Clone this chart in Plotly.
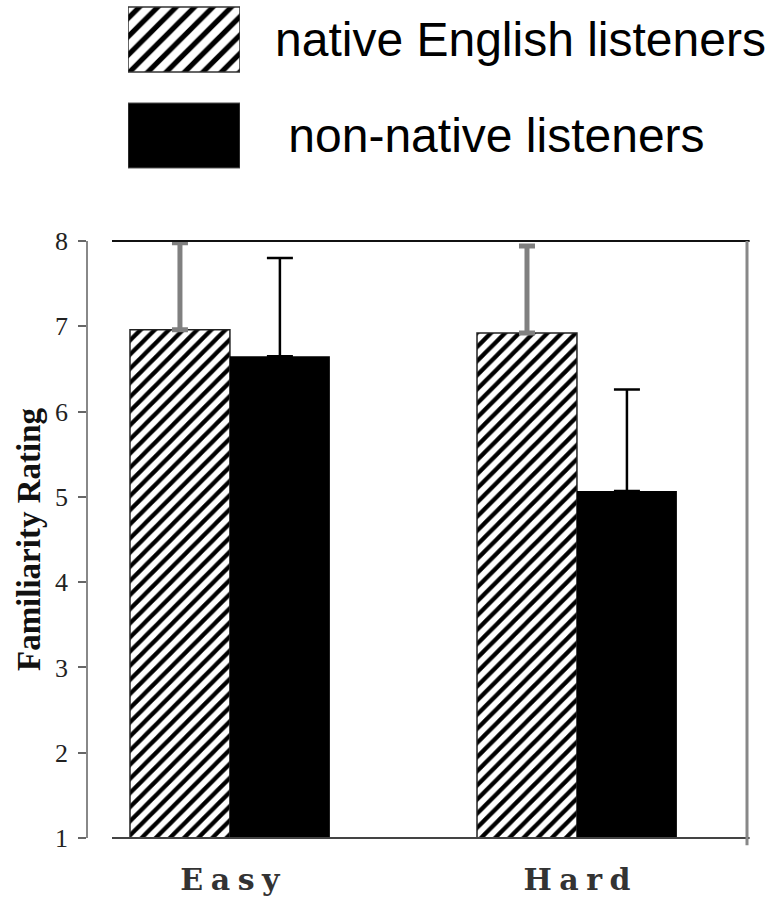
import plotly.graph_objects as go

# ---- data -------------------------------------------------------------
difficulty = ["Easy", "Hard"]
native_mean = [6.96, 6.92]
native_sd = [1.02, 1.02]
nonnative_mean = [6.65, 5.07]
nonnative_sd = [1.15, 1.19]
y_ticks = [1, 2, 3, 4, 5, 6, 7, 8]
group_names = ["native English listeners", "non-native listeners"]

# ---- styling ----------------------------------------------------------
BAR_W = 0.288
HATCH = dict(shape="/", fgcolor="black", bgcolor="white", size=10,
             solidity=0.42, fillmode="replace")

fig = go.Figure()

# native listeners: hatched bars with grey upward error bars
fig.add_trace(go.Bar(
    x=difficulty, y=native_mean, width=BAR_W, offset=-BAR_W,
    marker=dict(color="white", pattern=HATCH,
                line=dict(color="#222", width=1.5)),
    error_y=dict(type="data", array=native_sd, arrayminus=[0] * len(native_sd),
                 symmetric=False, color="#808080", thickness=5, width=8),
    name=group_names[0],
))

# non-native listeners: solid black bars with thin black error bars
fig.add_trace(go.Bar(
    x=difficulty, y=nonnative_mean, width=BAR_W, offset=0,
    marker=dict(color="black", line=dict(color="black", width=0)),
    error_y=dict(type="data", array=nonnative_sd,
                 arrayminus=[0] * len(nonnative_sd), symmetric=False,
                 color="black", thickness=2.5, width=13),
    name=group_names[1],
))

# key swatches drawn as horizontal bars on a small companion axis pair
fig.add_trace(go.Bar(
    y=[group_names[0]], x=[1], orientation="h", xaxis="x2", yaxis="y2",
    width=0.677, base=0,
    marker=dict(color="white",
                pattern=dict(shape="/", fgcolor="black", bgcolor="white",
                             size=13, solidity=0.4, fillmode="replace"),
                line=dict(color="#333", width=1.5)),
    hoverinfo="skip",
))
fig.add_trace(go.Bar(
    y=[group_names[1]], x=[1], orientation="h", xaxis="x2", yaxis="y2",
    width=0.677, base=0,
    marker=dict(color="black", line=dict(color="#555", width=1)),
    hoverinfo="skip",
))

spaced = ["\u2005".join(list(c)) for c in difficulty]
key_text = [group_names[0], "\u00a0" + group_names[1]]

fig.update_layout(
    width=771, height=901,
    margin=dict(l=88, r=24, t=0, b=63, pad=0, autoexpand=False),
    paper_bgcolor="white", plot_bgcolor="white",
    barmode="overlay", showlegend=False,
    xaxis=dict(
        type="category", categoryorder="array", categoryarray=difficulty,
        range=[-0.409, 1.490], domain=[0, 1], anchor="y", automargin=False,
        showline=False, showgrid=False, zeroline=False, ticks="",
        tickvals=difficulty, ticktext=spaced,
        tickfont=dict(family="DejaVu Serif", size=30, color="#333",
                      weight="bold"),
        ticklabelstandoff=21,
    ),
    yaxis=dict(
        range=[1, 8], domain=[0, 597 / 838], anchor="x", automargin=False,
        tickvals=y_ticks, ticks="outside", ticklen=8, tickwidth=1.5,
        tickcolor="#666", showline=True, linecolor="#888", linewidth=1.5,
        showgrid=False, zeroline=False,
        tickfont=dict(family="Liberation Serif", size=26, color="#222"),
        ticklabelstandoff=5,
        title=dict(text="Familiarity Rating", standoff=4,
                   font=dict(family="Liberation Serif", size=33,
                             color="#111", weight="bold")),
    ),
    xaxis2=dict(
        domain=[40 / 659, 152 / 659], anchor="y2", range=[0, 1],
        visible=False, fixedrange=True, automargin=False,
    ),
    yaxis2=dict(
        domain=[648 / 838, 1], anchor="x2", side="right", automargin=False,
        type="category", categoryorder="array", categoryarray=group_names,
        range=[1.5677, -0.411], tickvals=group_names, ticktext=key_text,
        showline=False, showgrid=False, zeroline=False, ticks="",
        tickfont=dict(family="Liberation Sans", size=48, color="black"),
        ticklabelstandoff=34, fixedrange=True,
    ),
    shapes=[
        # upper frame edge
        dict(type="line", xref="x domain", yref="y domain",
             x0=24 / 659, x1=1.004, y0=1, y1=1,
             line=dict(color="#111", width=2)),
        # baseline
        dict(type="line", xref="x domain", yref="y domain",
             x0=24 / 659, x1=1.004, y0=0, y1=0,
             line=dict(color="#444", width=2)),
        # right frame edge
        dict(type="line", xref="x domain", yref="y domain",
             x0=1, x1=1, y0=-0.012, y1=1,
             line=dict(color="#888", width=3)),
    ],
)

fig.write_html("out.html")
